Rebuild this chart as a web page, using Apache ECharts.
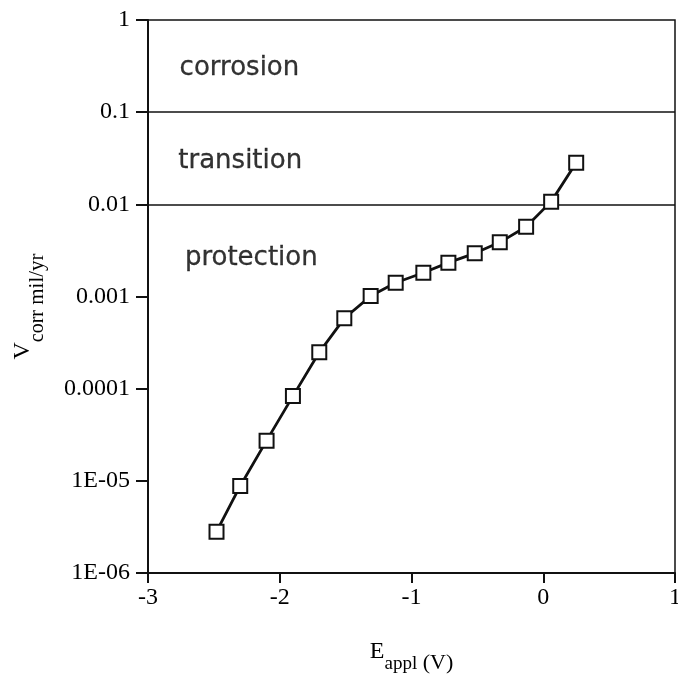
<!DOCTYPE html>
<html><head><meta charset="utf-8">
<script src="https://cdn.jsdelivr.net/npm/echarts@6/dist/echarts.min.js"></script>
<style>html,body{margin:0;padding:0;background:#fff}#c{width:678px;height:675px}</style>
</head><body><div id="c"></div>
<script>
const eAppl = [-2.48, -2.30, -2.10, -1.90, -1.70, -1.51, -1.31, -1.12, -0.91, -0.72, -0.52, -0.33, -0.13, 0.06, 0.25];
const vCorr = [2.81e-6, 8.8e-6, 2.73e-5, 8.3e-5, 2.48e-4, 5.8e-4, 1.01e-3, 1.41e-3, 1.81e-3, 2.33e-3, 2.94e-3, 3.87e-3, 5.72e-3, 1.07e-2, 2.83e-2];
const thresholds = [0.1, 0.01];
const regionNames = ['corrosion', 'transition', 'protection'];
const regionE = [-2.76, -2.77, -2.72];
const regionV = [0.30, 0.0295, 0.00262];
const yTickLabels = ['1E-06', '1E-05', '0.0001', '0.001', '0.01', '0.1', '1'];

const SERIF = '"Liberation Serif", "Times New Roman", serif';
const chart = echarts.init(document.getElementById('c'), null, {renderer: 'canvas'});
chart.setOption({
  animation: false,
  backgroundColor: '#fff',
  grid: {left: 148, right: 3, top: 20, bottom: 102, show: true, borderColor: '#111', borderWidth: 1.5,
         backgroundColor: 'transparent', containLabel: false, outerBoundsMode: 'none'},
  xAxis: {
    type: 'value', min: -3, max: 1, interval: 1,
    name: '{e|E}{s|appl}{n| (V)}',
    nameLocation: 'middle', nameGap: 57,
    nameTextStyle: {
      fontFamily: SERIF, color: '#000',
      rich: {
        e: {fontFamily: SERIF, fontSize: 24, color: '#000', lineHeight: 44},
        s: {fontFamily: SERIF, fontSize: 19, color: '#000', verticalAlign: 'bottom', lineHeight: 16},
        n: {fontFamily: SERIF, fontSize: 22, color: '#000', verticalAlign: 'bottom', lineHeight: 42}
      }
    },
    axisLine: {show: true, onZero: false, lineStyle: {color: '#111', width: 2}},
    axisTick: {show: true, inside: false, length: 10, lineStyle: {color: '#111', width: 2}},
    axisLabel: {fontFamily: SERIF, fontSize: 24, color: '#000', margin: 13, showMaxLabel: true},
    splitLine: {show: false}
  },
  yAxis: {
    type: 'log', logBase: 10, min: 1e-6, max: 1,
    name: '{v|V}{s|corr}{m| mil/yr}',
    nameLocation: 'middle', nameGap: 100, nameRotate: 90,
    nameTextStyle: {
      fontFamily: SERIF, color: '#000', padding: [0, 20, 0, 0],
      rich: {
        v: {fontFamily: SERIF, fontSize: 24, color: '#000', lineHeight: 50},
        s: {fontFamily: SERIF, fontSize: 20, color: '#000', verticalAlign: 'bottom', lineHeight: 18},
        m: {fontFamily: SERIF, fontSize: 21, color: '#000', verticalAlign: 'bottom', lineHeight: 46}
      }
    },
    axisLine: {show: true, onZero: false, lineStyle: {color: '#111', width: 2}},
    axisTick: {show: true, inside: false, length: 12, lineStyle: {color: '#111', width: 2}},
    minorTick: {show: false},
    axisLabel: {
      fontFamily: SERIF, fontSize: 24, color: '#000', margin: 18,
      formatter: function (v) { return yTickLabels[Math.round(Math.log10(v)) + 6]; }
    },
    splitLine: {show: false}
  },
  series: [
    {
      type: 'line',
      data: eAppl.map((e, i) => [e, vCorr[i]]),
      symbol: 'rect', symbolSize: 14, showAllSymbol: true,
      lineStyle: {color: '#111', width: 2.8},
      itemStyle: {color: '#fff', borderColor: '#111', borderWidth: 2},
      z: 5,
      markLine: {
        silent: true, symbol: 'none',
        label: {show: false},
        lineStyle: {color: '#111', width: 1.5, type: 'solid'},
        data: thresholds.map(t => ({yAxis: t}))
      }
    },
    {
      type: 'scatter',
      data: regionNames.map((n, i) => ({name: n, value: [regionE[i], regionV[i]]})),
      symbolSize: 0,
      silent: true,
      label: {
        show: true, position: 'right', distance: 0,
        formatter: p => p.name,
        fontFamily: '"DejaVu Sans", sans-serif', fontSize: 26, color: '#000',
        textBorderColor: '#000', textBorderWidth: 0.3
      }
    }
  ]
});
</script>
</body></html>
